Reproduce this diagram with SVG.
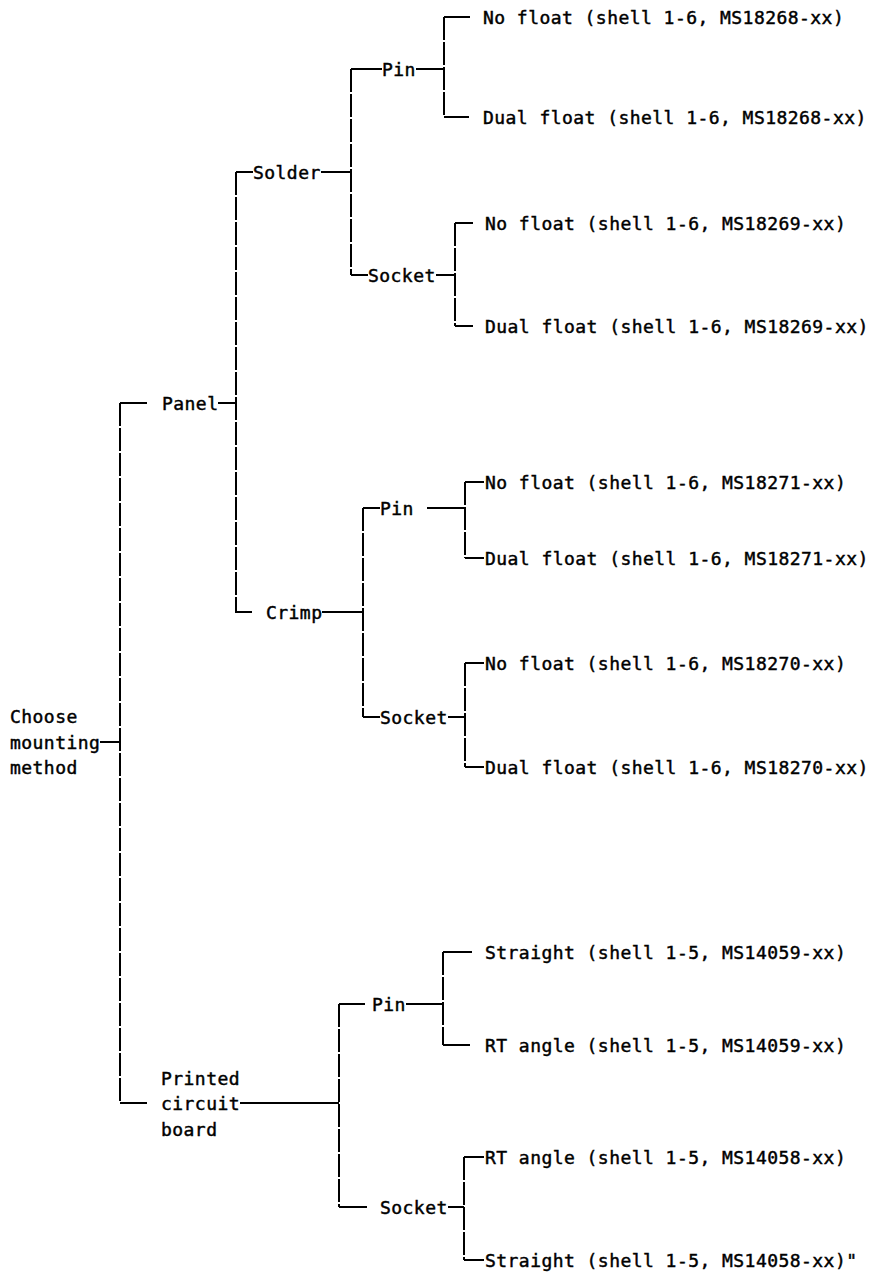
<svg xmlns="http://www.w3.org/2000/svg" width="878" height="1275" viewBox="0 0 878 1275">
<style>
text{font-family:"DejaVu Sans Mono","Liberation Mono",monospace;font-size:18px;letter-spacing:0.45px;fill:#000;stroke:#000;stroke-width:0.45px}
.h{stroke:#000;stroke-width:1.8;fill:none}
.v{stroke:#000;stroke-width:2;fill:none;stroke-dasharray:23 2}
</style>
<rect width="878" height="1275" fill="#fff"/>
<g id="connectors">
<path class="h" d="M100 742H120 M120 403H147 M218 403H236 M120 1103H147 M240 1103H339"/>
<path class="h" d="M236 172H253 M321 172H351 M235 612H252 M322 612H363"/>
<path class="h" d="M351 69H382 M416 69H444 M351 275H368 M436 275H455"/>
<path class="h" d="M363 508H380 M427 508H465 M363 717H380 M448 717H465"/>
<path class="h" d="M339 1004H365 M406 1004H443 M339 1207H367 M448 1207H464"/>
<path class="h" d="M444 17H470 M444 117H469 M455 223H473 M455 326H473"/>
<path class="h" d="M465 482H484 M465 558H484 M465 663H484 M465 767H484"/>
<path class="h" d="M443 952H472 M443 1045H470 M464 1157H484 M464 1260H484"/>
<path class="v" d="M120 403V1103 M236 172V612 M351 69V275 M444 17V117 M455 223V326 M363 508V717 M465 482V558 M465 663V767 M339 1004V1207 M443 952V1045 M464 1157V1260"/>
</g>
<g id="root"><text x="10" y="723">Choose</text><text x="10" y="749">mounting</text><text x="10" y="774">method</text></g>
<g id="panel"><text x="162" y="410">Panel</text></g>
<g id="pcb"><text x="161" y="1085">Printed</text><text x="161" y="1110">circuit</text><text x="161" y="1136">board</text></g>
<g id="solder"><text x="253" y="179">Solder</text></g>
<g id="crimp"><text x="266" y="619">Crimp</text></g>
<g id="solder-pin"><text x="382" y="76">Pin</text></g>
<g id="solder-socket"><text x="368" y="282">Socket</text></g>
<g id="crimp-pin"><text x="380" y="515">Pin</text></g>
<g id="crimp-socket"><text x="380" y="724">Socket</text></g>
<g id="pcb-pin"><text x="372" y="1011">Pin</text></g>
<g id="pcb-socket"><text x="380" y="1214">Socket</text></g>
<g id="leaf1"><text x="483" y="24">No float (shell 1-6, MS18268-xx)</text></g>
<g id="leaf2"><text x="483" y="124">Dual float (shell 1-6, MS18268-xx)</text></g>
<g id="leaf3"><text x="485" y="230">No float (shell 1-6, MS18269-xx)</text></g>
<g id="leaf4"><text x="485" y="333">Dual float (shell 1-6, MS18269-xx)</text></g>
<g id="leaf5"><text x="485" y="489">No float (shell 1-6, MS18271-xx)</text></g>
<g id="leaf6"><text x="485" y="565">Dual float (shell 1-6, MS18271-xx)</text></g>
<g id="leaf7"><text x="485" y="670">No float (shell 1-6, MS18270-xx)</text></g>
<g id="leaf8"><text x="485" y="774">Dual float (shell 1-6, MS18270-xx)</text></g>
<g id="leaf9"><text x="485" y="959">Straight (shell 1-5, MS14059-xx)</text></g>
<g id="leaf10"><text x="485" y="1052">RT angle (shell 1-5, MS14059-xx)</text></g>
<g id="leaf11"><text x="485" y="1164">RT angle (shell 1-5, MS14058-xx)</text></g>
<g id="leaf12"><text x="485" y="1267">Straight (shell 1-5, MS14058-xx)"</text></g>
</svg>
